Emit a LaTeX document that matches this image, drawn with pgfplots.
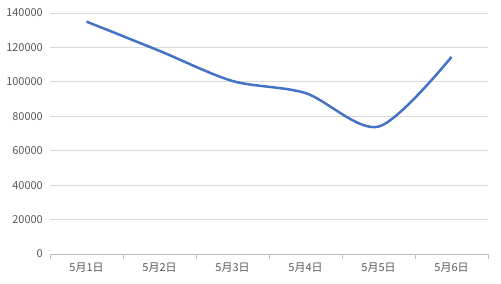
\documentclass[border=0pt]{standalone}
\usepackage{pgfplots}
\pgfplotsset{compat=1.18}
\usepackage{fontspec}
\setmainfont{Noto Sans CJK SC}
\definecolor{lineblue}{HTML}{4472C4}
\definecolor{gridgray}{HTML}{D9D9D9}
\definecolor{axisgray}{HTML}{BFBFBF}
\definecolor{textgray}{HTML}{595959}
\begin{document}
\begin{tikzpicture}
\begin{axis}[
  scale only axis,
  width=438bp, height=241bp,
  xmin=-0.5, xmax=5.5,
  ymin=0, ymax=140000,
  ytick={0,20000,...,140000},
  scaled y ticks=false,
  yticklabel style={/pgf/number format/fixed, /pgf/number format/set thousands separator={}},
  /pgf/number format/assume math mode=true,
  xtick={0,1,2,3,4,5},
  xticklabels={5月1日,5月2日,5月3日,5月4日,5月5日,5月6日},
  extra x ticks={-0.5,0.5,1.5,2.5,3.5,4.5,5.5},
  extra x tick labels={},
  extra x tick style={major tick length=5bp, tick style={draw=axisgray, line width=0.75bp}, tick align=outside, xmajorgrids=false},
  major tick length=0pt,
  axis lines*=left,
  x axis line style={draw=axisgray, line width=0.75bp},
  y axis line style={draw=none},
  ymajorgrids,
  grid style={draw=gridgray, line width=0.75bp},
  tick label style={font=\fontsize{11}{13}\selectfont, text=textgray},
  yticklabel style={anchor=east, inner sep=0pt, xshift=-7bp},
  xticklabel style={anchor=north, inner sep=0pt, yshift=-9bp},
  clip=false,
]
\addplot[lineblue, line width=2.5bp, smooth, tension=0.5] coordinates {
  (0,135000) (1,118000) (2,100500) (3,93500) (4,74000) (5,114500)
};
\coordinate (sw) at (rel axis cs:0,0);
\coordinate (ne) at (rel axis cs:1,1);
\end{axis}
\path ([shift={(-50bp,-29bp)}]sw) rectangle ([shift={(13bp,13bp)}]ne);
\end{tikzpicture}
\end{document}
